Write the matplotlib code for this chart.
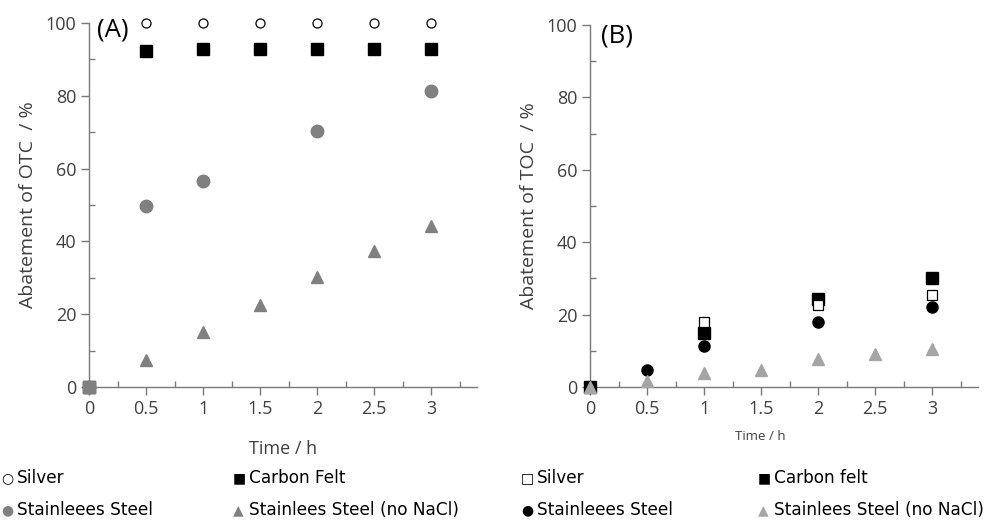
import matplotlib
matplotlib.use("Agg")
import matplotlib.pyplot as plt
from matplotlib.ticker import MultipleLocator

# ---- data (Panel A: OTC abatement) ----
time_a_full = [0, 0.5, 1, 1.5, 2, 2.5, 3]
a_silver = [0, 100, 100, 100, 100, 100, 100]
a_carbon = [0, 92.4, 92.9, 92.9, 92.9, 92.9, 92.9]
time_a_ss = [0, 0.5, 1, 2, 3]
a_ss = [0, 49.7, 56.6, 70.3, 81.3]
a_ss_nonacl = [0, 7.4, 15.2, 22.6, 30.3, 37.3, 44.2]

# ---- data (Panel B: TOC abatement) ----
time_b = [0, 1, 2, 3]
b_silver = [0, 18.0, 22.6, 25.3]
b_carbon = [0, 15.0, 24.2, 30.2]
time_b_ss = [0, 0.5, 1, 2, 3]
b_ss = [0, 4.7, 11.2, 17.9, 22.1]
time_b_tri = [0, 0.5, 1, 1.5, 2, 2.5, 3]
b_ss_nonacl = [0, 1.6, 4.0, 4.6, 7.8, 9.1, 10.6]

plt.rcParams['font.family'] = ['Open Sans', 'DejaVu Sans']

fig = plt.figure(figsize=(9.93, 5.21), dpi=100)
axA = fig.add_axes([89/993, 1-387/521, (477-89)/993, (387-23)/521])
axB = fig.add_axes([590/993, 1-387/521, (978-590)/993, (387-25)/521])

spine_col = '#7a7a7a'
txt_col = '#404040'
gray_a = '#808080'
gray_b = '#a5a5a5'

def style(ax, ylabel):
    ax.set_xlim(0, 3.4)
    ax.set_ylim(0, 100)
    for s in ['top', 'right']:
        ax.spines[s].set_visible(False)
    for s in ['left', 'bottom']:
        ax.spines[s].set_color(spine_col)
        ax.spines[s].set_linewidth(1.0)
    ax.xaxis.set_major_locator(MultipleLocator(0.5))
    ax.xaxis.set_minor_locator(MultipleLocator(0.25))
    ax.yaxis.set_major_locator(MultipleLocator(20))
    ax.yaxis.set_minor_locator(MultipleLocator(10))
    ax.set_xticks([0, 0.5, 1, 1.5, 2, 2.5, 3])
    ax.set_xticklabels(['0', '0.5', '1', '1.5', '2', '2.5', '3'])
    ax.tick_params(which='major', direction='out', length=6, width=1, color=spine_col,
                   labelsize=13, labelcolor=txt_col, pad=3)
    ax.tick_params(which='minor', direction='in', length=4, width=1, color=spine_col)
    ax.set_ylabel(ylabel, fontsize=14, color=txt_col, labelpad=6)

style(axA, 'Abatement of OTC  / %')
style(axB, 'Abatement of TOC  / %')

axA.set_xlabel('Time / h', fontsize=13, color=txt_col)
axB.set_xlabel('Time / h', fontsize=9.5, color=txt_col)
axB.xaxis.set_label_coords(0.44, -0.12)
axA.xaxis.set_label_coords(0.5, -0.145)

axA.plot(time_a_full, a_silver, 'o', mfc='white', mec='black', mew=0.9, ms=6.5, ls='none', clip_on=False, zorder=3)
axA.plot(time_a_full, a_carbon, 's', color='black', ms=8, ls='none', clip_on=False, zorder=3)
axA.plot(time_a_ss, a_ss, 'o', color=gray_a, ms=9, ls='none', clip_on=False, zorder=3)
axA.plot(time_a_full, a_ss_nonacl, '^', color=gray_a, ms=8.5, ls='none', clip_on=False, zorder=3)
axA.plot([0], [0], 's', color=gray_a, ms=8.5, clip_on=False, zorder=4)

axB.plot(time_b, b_carbon, 's', color='black', ms=8.4, ls='none', clip_on=False, zorder=3)
axB.plot(time_b, b_silver, 's', mfc='white', mec='black', mew=0.9, ms=7.8, ls='none', clip_on=False, zorder=3)
axB.plot(time_b_ss, b_ss, 'o', color='black', ms=8, ls='none', clip_on=False, zorder=3)
axB.plot(time_b_tri, b_ss_nonacl, '^', color=gray_b, ms=8.7, ls='none', clip_on=False, zorder=4)

axA.text(0.07, 98.0, '(A)', fontsize=18.5, color='black', va='center', ha='left')
axB.text(0.095, 97.0, '(B)', fontsize=18.5, color='black', va='center', ha='left')

# ---- legend text rows ----
entries = [
    (0, 478, '○', 'black', 'Silver'),
    (232, 478, '■', 'black', 'Carbon Felt'),
    (520, 478, '□', 'black', 'Silver'),
    (757, 478, '■', 'black', 'Carbon felt'),
    (0, 510, '●', gray_a, 'Stainleees Steel'),
    (232, 510, '▲', gray_a, 'Stainlees Steel (no NaCl)'),
    (520, 510, '●', 'black', 'Stainleees Steel'),
    (757, 510, '▲', gray_b, 'Stainlees Steel (no NaCl)'),
]
for x, y, glyph, col, lab in entries:
    fig.text((x + 1)/993, 1 - y/521, glyph, fontsize=10, color=col, va='center', ha='left',
             family=['DejaVu Sans'])
    fig.text((x + 17)/993, 1 - y/521, lab, fontsize=12.2, color='black', va='center', ha='left',
             family=['DejaVu Sans'])

fig.savefig('out.png', dpi=100)
